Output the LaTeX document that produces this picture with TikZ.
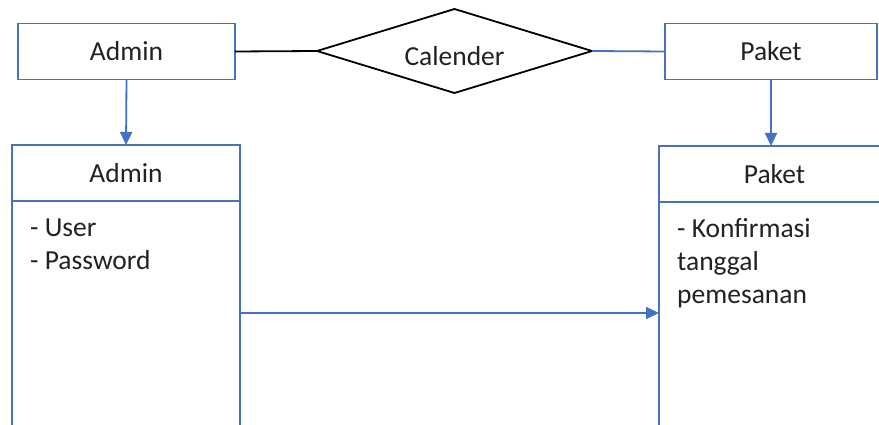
\documentclass[tikz,border=0pt]{standalone}
\usepackage{fontspec}
\setmainfont{Carlito}
\usetikzlibrary{shapes.geometric,arrows.meta}
\definecolor{boxblue}{HTML}{4A72B8}
\definecolor{linkblue}{HTML}{4472C4}
\definecolor{inkgray}{HTML}{222222}
\tikzset{
  base/.style={draw=boxblue, line width=1.8pt, text=inkgray, inner sep=0pt, outer sep=0pt,
    font=\fontsize{27.5}{33}\selectfont},
  entity/.style={base, rectangle, minimum height=56pt},
  header/.style={base, rectangle, minimum height=56pt},
  body/.style={base, rectangle, anchor=north},
  relation/.style={base, draw=black, diamond, aspect=3.27, minimum width=275pt, minimum height=84pt},
  attrs/.style={text=inkgray, inner sep=0pt, anchor=north west, align=left,
    font=\fontsize{27.5}{33}\selectfont},
  link/.style={draw=linkblue, line width=1.8pt},
  flow/.style={link, -{Triangle[length=13pt,width=12pt]}},
}
\begin{document}
\begin{tikzpicture}[x=1pt, y=-1pt]
  \useasboundingbox (0,0) rectangle (879,425);
  \clip (0,0) rectangle (879,425);
  \fill[white] (0,0) rectangle (879,425);

  % top row: entities and the relation between them
  \node[entity, minimum width=217pt] (admin) at (126.5,51.5) {Admin};
  \node[relation] (cal) at (454.5,51) {\raisebox{-14.5pt}[0pt][0pt]{Calender}};
  \node[entity, minimum width=212pt] (paket) at (771,51.5) {Paket};

  % class boxes (header + attribute compartment)
  \node[header, minimum width=228pt] (adminhd) at (126,173) {Admin};
  \node[body, minimum width=228pt, minimum height=240pt] (adminbd) at (adminhd.south) {};
  \node[header, minimum width=231pt] (pakethd) at (774.5,174) {Paket};
  \node[body, minimum width=231pt, minimum height=240pt] (paketbd) at (pakethd.south) {};

  % attribute lists
  \node[attrs] (adminattr) at (30,219) {- User\\- Password};
  \node[attrs] (paketattr) at (677,218) {- Konfirmasi\\tanggal\\pemesanan};

  % connectors
  \draw[line width=1.8pt, draw=black] (admin.east) -- (cal.west);
  \draw[link] (cal.east) -- (paket.west);
  \draw[flow] (admin.south) -- (adminhd.north);
  \draw[flow] (paket.south) -- (paket.south |- pakethd.north);
  \coordinate (mid) at (0,313);
  \draw[flow] (adminbd.east |- mid) -- (paketbd.west |- mid);
\end{tikzpicture}
\end{document}
